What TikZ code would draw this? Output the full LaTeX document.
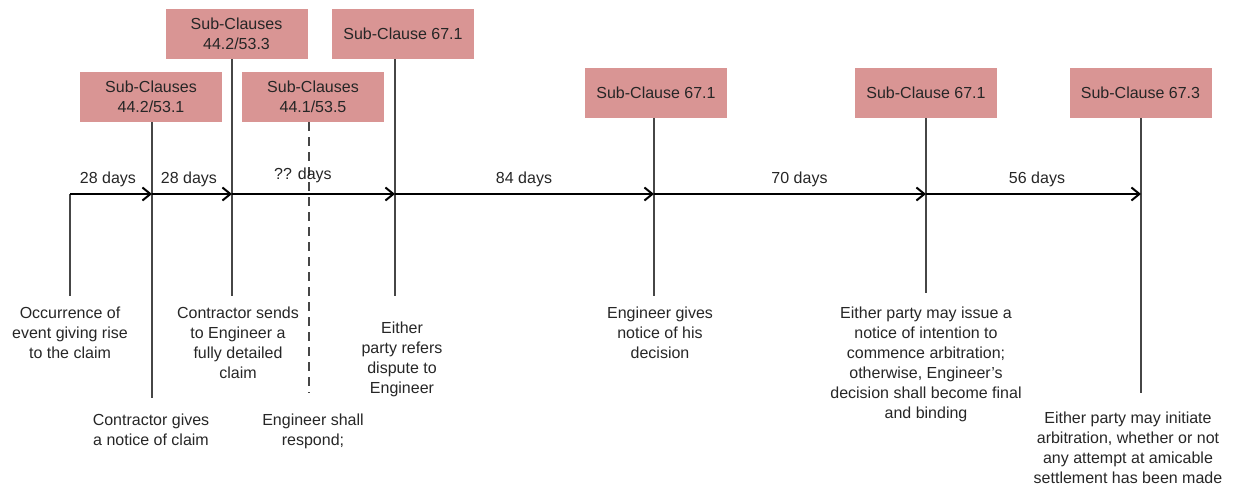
\documentclass[tikz,border=0pt]{standalone}
\usepackage{fontspec}
\setmainfont{Liberation Sans}
\usetikzlibrary{arrows.meta}
\definecolor{boxfill}{RGB}{217,149,148}
\definecolor{txt}{RGB}{38,38,38}
\definecolor{vln}{RGB}{70,70,70}
\begin{document}
\begin{tikzpicture}[x=1pt,y=-1pt,
  clause/.style={fill=boxfill, minimum width=142pt, minimum height=50pt, inner sep=0pt, align=center, text=txt, font=\fontsize{16}{20.5}\selectfont},
  lbl/.style={inner sep=0pt, align=center, text=txt, font=\fontsize{16}{20}\selectfont, anchor=north},
  days/.style={inner sep=0pt, text=txt, font=\fontsize{16}{20}\selectfont, anchor=base},
  tl/.style={line width=2pt, -{Straight Barb[length=8pt,width=13pt,line width=2pt]}},
  vline/.style={line width=1.5pt, draw=vln}]
\useasboundingbox (0,0) rectangle (1238,486);
% timeline points
\coordinate (t0) at (70,194);
\coordinate (t1) at (152,194);
\coordinate (t2) at (232,194);
\coordinate (t3) at (309,194);
\coordinate (t4) at (395,194);
\coordinate (t5) at (654,194);
\coordinate (t6) at (926,194);
\coordinate (t7) at (1141,194);
% bottom ends
\coordinate (e0) at (70,296);
\coordinate (e1) at (152,398);
\coordinate (e2) at (232,296);
\coordinate (e3) at (309,393);
\coordinate (e4) at (395,296);
\coordinate (e5) at (654,296);
\coordinate (e6) at (926,293);
\coordinate (e7) at (1141,393);
% boxes
\node[clause] (b1) at (151,97) {Sub-Clauses\\44.2/53.1};
\node[clause] (b2) at (236.5,34) {Sub-Clauses\\44.2/53.3};
\node[clause] (b3) at (313,97) {Sub-Clauses\\44.1/53.5};
\node[clause] (b4) at (403,34) {Sub-Clause 67.1};
\node[clause] (b5) at (656,93) {Sub-Clause 67.1};
\node[clause] (b6) at (926,93) {Sub-Clause 67.1};
\node[clause] (b7) at (1140.5,93) {Sub-Clause 67.3};
% verticals
\draw[vline] (t0) -- (e0);
\draw[vline] (t1 |- b1.south) -- (e1);
\draw[vline] (t2 |- b2.south) -- (e2);
\draw[vline, dash pattern=on 9pt off 6pt] (t3 |- b3.south) -- (e3);
\draw[vline] (t4 |- b4.south) -- (e4);
\draw[vline] (t5 |- b5.south) -- (e5);
\draw[vline] (t6 |- b6.south) -- (e6);
\draw[vline] (t7 |- b7.south) -- (e7);
% timeline arrows
\draw[tl] (t0) -- (t1);
\draw[tl] (t1) -- (t2);
\draw[tl] (t2) -- (t4);
\draw[tl] (t4) -- (t5);
\draw[tl] (t5) -- (t6);
\draw[tl] (t6) -- (t7);
% day labels
\node[days] (d1) at (108,183.5) {28 days};
\node[days] (d2) at (189,183.5) {28 days};
\node[days] (d3) at (303,179.5) {?? days};
\node[days] (d4) at (524,183.5) {84 days};
\node[days] (d5) at (799.5,183.5) {70 days};
\node[days] (d6) at (1037,183.5) {56 days};
% event labels
\node[lbl] (l0) at (70,307) {Occurrence of\\event giving rise\\to the claim};
\node[lbl] (l1) at (151,414) {Contractor gives\\a notice of claim};
\node[lbl] (l2) at (238,307) {Contractor sends\\to Engineer a\\fully detailed\\claim};
\node[lbl] (l3) at (313,414) {Engineer shall\\respond;};
\node[lbl] (l4) at (402,322) {Either\\party refers\\dispute to\\Engineer};
\node[lbl] (l5) at (660,307) {Engineer gives\\notice of his\\decision};
\node[lbl] (l6) at (926,306.5) {Either party may issue a\\notice of intention to\\commence arbitration;\\otherwise, Engineer’s\\decision shall become final\\and binding};
\node[lbl] (l7) at (1128,411.5) {Either party may initiate\\arbitration, whether or not\\any attempt at amicable\\settlement has been made};
\end{tikzpicture}
\end{document}
